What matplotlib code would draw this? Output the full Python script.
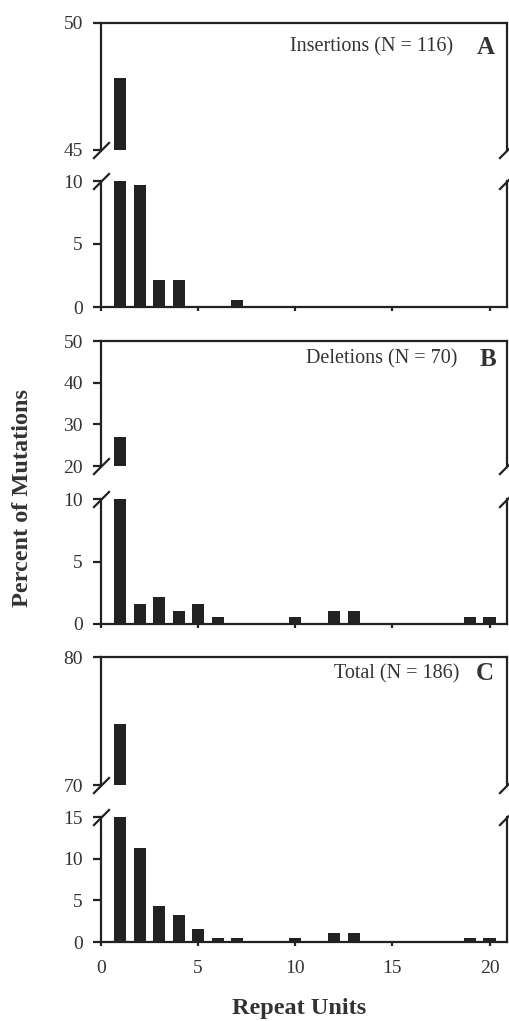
import numpy as np
import matplotlib.pyplot as plt

# Repeat units 1..20, percent of all 186 mutations
units = np.arange(1, 21)
insertions = [47.85, 9.68, 2.15, 2.15, 0, 0, 0.54, 0, 0, 0,
              0, 0, 0, 0, 0, 0, 0, 0, 0, 0]
deletions = [26.88, 1.61, 2.15, 1.08, 1.61, 0.54, 0, 0, 0, 0.54,
             0, 1.08, 1.08, 0, 0, 0, 0, 0, 0.54, 0.54]
total = [74.73, 11.29, 4.30, 3.23, 1.61, 0.54, 0.54, 0, 0, 0.54,
         0, 1.08, 1.08, 0, 0, 0, 0, 0, 0.54, 0.54]

panels = [
    # values, label, letter, upper ylim, upper ticks, lower ylim, lower ticks
    (insertions, 'Insertions (N = 116)', 'A', (45, 50), [45, 50], (0, 10), [0, 5, 10]),
    (deletions, 'Deletions (N = 70)', 'B', (20, 50), [20, 30, 40, 50], (0, 10), [0, 5, 10]),
    (total, 'Total (N = 186)', 'C', (70, 80), [70, 80], (0, 15), [0, 5, 10, 15]),
]

W, H = 509, 1021
plt.rcParams['font.family'] = 'Liberation Serif'
fig = plt.figure(figsize=(W / 100, H / 100), dpi=100)

# pixel boxes: (upper top, upper bottom, lower top, lower bottom)
boxes = [(23, 150, 181, 307), (341, 466, 499, 624), (657, 785, 817, 942)]
left, right = 101, 507
col = '#222222'
txt = '#333333'


def px_axes(top, bottom):
    return fig.add_axes([left / W, 1 - bottom / H, (right - left) / W, (bottom - top) / H])


brk = dict(marker=[(-1, -1), (1, 1)], markersize=12, linestyle='none',
           color=col, mec=col, mew=1.6, clip_on=False)

for i, (vals, label, letter, ylu, tku, yll, tkl) in enumerate(panels):
    t1, b1, t2, b2 = boxes[i]
    up = px_axes(t1, b1)
    lo = px_axes(t2, b2)
    for ax in (up, lo):
        ax.bar(units, vals, width=0.62, color=col, linewidth=0)
        ax.set_xlim(0, 20.9)
        for s in ax.spines.values():
            s.set_linewidth(1.6)
            s.set_color(col)
        ax.tick_params(axis='y', direction='out', length=6, width=1.6,
                       labelsize=14, pad=7, colors=col, labelcolor=txt)
        ax.tick_params(axis='x', direction='out', length=3, width=1.6,
                       labelsize=14, pad=10, colors=col, labelcolor=txt)
    up.set_ylim(*ylu)
    up.set_yticks(tku)
    up.spines['bottom'].set_visible(False)
    up.set_xticks([])
    lo.set_ylim(*yll)
    lo.set_yticks(tkl)
    lo.spines['top'].set_visible(False)
    lo.set_xticks([0, 5, 10, 15, 20])
    if i < 2:
        lo.set_xticklabels([])

    up.plot([0, 1], [0, 0], transform=up.transAxes, **brk)
    lo.plot([0, 1], [1, 1], transform=lo.transAxes, **brk)

    ty = 1 - ([47, 359, 674][i]) / H
    fig.text([453, 457, 459][i] / W, ty, label, ha='right', va='center',
             fontsize=14.5, color=txt)
    fig.text([486, 488, 485][i] / W, ty, letter, ha='center', va='center',
             fontsize=18, fontweight='bold', color=txt)

fig.text(23 / W, 1 - 498 / H, 'Percent of Mutations', rotation=90,
         ha='center', va='center', fontsize=17.5, fontweight='bold', color=txt)
fig.text(299 / W, 1 - 1008 / H, 'Repeat Units', ha='center', va='center',
         fontsize=17.5, fontweight='bold', color=txt)

fig.savefig('out.png', dpi=100, facecolor='white')
